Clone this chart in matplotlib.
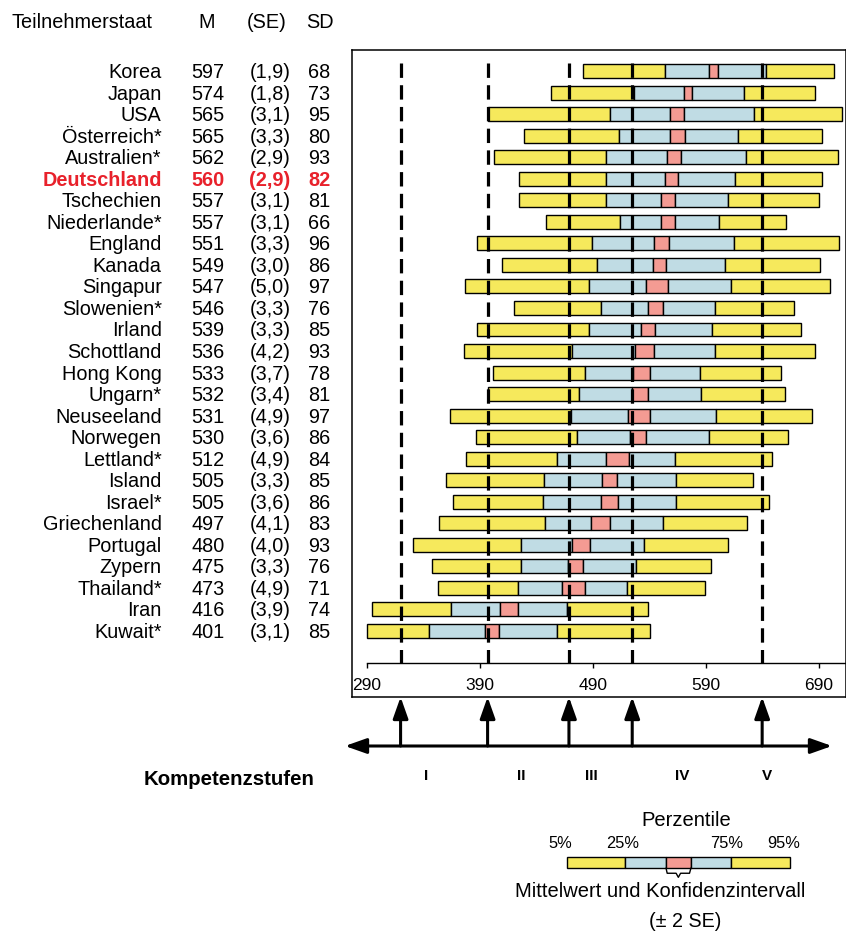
import matplotlib
matplotlib.use("Agg")
import matplotlib.pyplot as plt
import matplotlib.transforms as mtransforms

plt.rcParams['font.family'] = ['Liberation Sans', 'DejaVu Sans']

# --- data ---
countries = ['Korea', 'Japan', 'USA', 'Österreich*', 'Australien*', 'Deutschland',
             'Tschechien', 'Niederlande*', 'England', 'Kanada', 'Singapur', 'Slowenien*',
             'Irland', 'Schottland', 'Hong Kong', 'Ungarn*', 'Neuseeland', 'Norwegen',
             'Lettland*', 'Island', 'Israel*', 'Griechenland', 'Portugal', 'Zypern',
             'Thailand*', 'Iran', 'Kuwait*']
means = [597, 574, 565, 565, 562, 560, 557, 557, 551, 549, 547, 546, 539, 536,
         533, 532, 531, 530, 512, 505, 505, 497, 480, 475, 473, 416, 401]
se = [1.9, 1.8, 3.1, 3.3, 2.9, 2.9, 3.1, 3.1, 3.3, 3.0, 5.0, 3.3, 3.3, 4.2,
      3.7, 3.4, 4.9, 3.6, 4.9, 3.3, 3.6, 4.1, 4.0, 3.3, 4.9, 3.9, 3.1]
sd = [68, 73, 95, 80, 93, 82, 81, 66, 96, 86, 97, 76, 85, 93,
      78, 81, 97, 86, 84, 85, 86, 83, 93, 76, 71, 74, 85]
p05 = [481, 453, 397, 429, 403, 425, 425, 449, 388, 410, 377, 420, 388, 376,
       402, 397, 364, 387, 378, 360, 366, 354, 331, 348, 353, 295, 290]
p25 = [554, 527, 505, 513, 502, 502, 502, 514, 489, 494, 487, 497, 487, 472,
       483, 478, 471, 476, 458, 447, 446, 448, 427, 427, 424, 365, 345]
p75 = [643, 624, 633, 619, 626, 616, 610, 602, 615, 607, 612, 598, 596, 598,
       585, 586, 599, 593, 563, 564, 564, 552, 535, 528, 520, 467, 458]
p95 = [704, 687, 711, 693, 707, 693, 690, 661, 708, 691, 700, 668, 674, 687,
       657, 660, 684, 663, 649, 632, 646, 627, 610, 595, 589, 539, 541]
highlight = 'Deutschland'

cuts = [320, 397, 469, 525, 640]
stufen = ['I', 'II', 'III', 'IV', 'V']
stufen_x = [342.5, 427, 489, 569, 644]   # label positions on the score scale
ticks = [290, 390, 490, 590, 690]

YELLOW = '#F6E95C'
BLUE = '#C0DCE4'
RED = '#F49B93'
HILITE = '#E8212B'

W, H = 846, 931
fig = plt.figure(figsize=(W / 100, H / 100), dpi=100)


def fx(px):
    return px / W


def fy(py):
    return 1 - py / H


ax = fig.add_axes([fx(352), fy(697), fx(846) - fx(352), fy(50) - fy(697)])
ax.set_xlim(277.0, 714.2)
ax.set_ylim(29.08, -0.99)
ax.set_xticks([])
ax.set_yticks([])
for s in ax.spines.values():
    s.set_linewidth(1.1)

for i in range(len(countries)):
    lo = means[i] - 2 * se[i]
    hi = means[i] + 2 * se[i]
    segs = [(p05[i], p25[i], YELLOW), (p25[i], lo, BLUE), (lo, hi, RED),
            (hi, p75[i], BLUE), (p75[i], p95[i], YELLOW)]
    for a, b, c in segs:
        ax.barh(i, b - a, left=a, height=0.65, color=c, edgecolor='black',
                linewidth=1.0, zorder=2)

ax.vlines(cuts, -0.39, 27.5, colors='black', linewidth=2.3,
          linestyles=(0, (4.5, 2.3)), zorder=3)

# inner score axis
ax2 = fig.add_axes([fx(352), fy(663), fx(846) - fx(352), 0.0001])
ax2.set_xlim(ax.get_xlim())
ax2.patch.set_visible(False)
for k in ['top', 'left', 'right']:
    ax2.spines[k].set_visible(False)
ax2.spines['bottom'].set_bounds(290, 714.2)
ax2.spines['bottom'].set_linewidth(1.0)
ax2.set_yticks([])
ax2.set_xticks(ticks)
ax2.set_xticklabels([str(t) for t in ticks])
ax2.tick_params(axis='x', direction='out', length=3.6, width=1.0, pad=7,
                labelsize=12.5)

# left text table
trans = mtransforms.blended_transform_factory(fig.transFigure, ax.transData)
fs = 14.3
fig.text(fx(11.7), fy(28.3), 'Teilnehmerstaat', fontsize=fs, ha='left', va='baseline')
fig.text(fx(206.7), fy(28.3), 'M', fontsize=fs, ha='center', va='baseline')
fig.text(fx(266.7), fy(28.3), '(SE)', fontsize=fs, ha='center', va='baseline')
fig.text(fx(320), fy(28.3), 'SD', fontsize=fs, ha='center', va='baseline')
for i, name in enumerate(countries):
    kw = dict(fontsize=fs, va='baseline', transform=trans)
    if name == highlight:
        kw.update(color=HILITE, fontweight='bold')
    y = i + 0.325
    ax.text(fx(161.7), y, name, ha='right', **kw)
    ax.text(fx(208), y, str(means[i]), ha='center', **kw)
    ax.text(fx(270), y, '({:.1f})'.format(se[i]).replace('.', ','), ha='center', **kw)
    ax.text(fx(319.5), y, str(sd[i]), ha='center', **kw)

# arrows below the chart
head = '-|>,head_length=0.65,head_width=0.23'
for c in cuts:
    ax.annotate('', xy=(c, H - 697), xycoords=('data', 'figure pixels'),
                xytext=(c, H - 746), textcoords=('data', 'figure pixels'),
                arrowprops=dict(arrowstyle=head, mutation_scale=20, lw=2.2,
                                color='black', shrinkA=0, shrinkB=0),
                annotation_clip=False)
ax.annotate('', xy=(345, H - 746), xycoords='figure pixels',
            xytext=(832, H - 746), textcoords='figure pixels',
            arrowprops=dict(arrowstyle='<|-|>,head_length=0.65,head_width=0.23',
                            mutation_scale=20, lw=2.2, color='black',
                            shrinkA=0, shrinkB=0),
            annotation_clip=False)

fig.text(fx(144), fy(784.7), 'Kompetenzstufen', fontsize=14.7, fontweight='bold',
         ha='left', va='baseline')
strans = mtransforms.blended_transform_factory(ax.transData, fig.transFigure)
for lab, xs in zip(stufen, stufen_x):
    ax.text(xs, fy(780), lab, fontsize=11, fontweight='bold', ha='center',
            va='baseline', transform=strans)

# legend key
lax = fig.add_axes([fx(566.7), fy(868.3), fx(790) - fx(566.7), fy(857.3) - fy(868.3)])
lax.set_xlim(0, 1)
lax.set_ylim(-0.5, 0.5)
lax.axis('off')
key = [(0, 0.26, YELLOW), (0.26, 0.443, BLUE), (0.443, 0.558, RED),
       (0.558, 0.736, BLUE), (0.736, 1.0, YELLOW)]
for a, b, c in key:
    lax.barh(0, b - a, left=a, height=1.0, color=c, edgecolor='black',
             linewidth=1.0, clip_on=False)
lax.plot([0.445, 0.45, 0.49, 0.5, 0.51, 0.55, 0.556],
         [-0.5, -0.95, -0.95, -1.32, -0.95, -0.95, -0.5],
         color='black', lw=1.0, clip_on=False)

fig.text(fx(686.7), fy(826.5), 'Perzentile', fontsize=14.5, ha='center', va='baseline')
for lab, px in zip(['5%', '25%', '75%', '95%'], [560, 622.7, 726.7, 784]):
    fig.text(fx(px), fy(847.5), lab, fontsize=11.8, ha='center', va='baseline')
fig.text(fx(660), fy(896.7), 'Mittelwert und Konfidenzintervall', fontsize=14.5,
         ha='center', va='baseline')
fig.text(fx(685), fy(926.7), '(± 2 SE)', fontsize=14.2, ha='center', va='baseline')

plt.savefig('out.png', dpi=100)
plt.close()
